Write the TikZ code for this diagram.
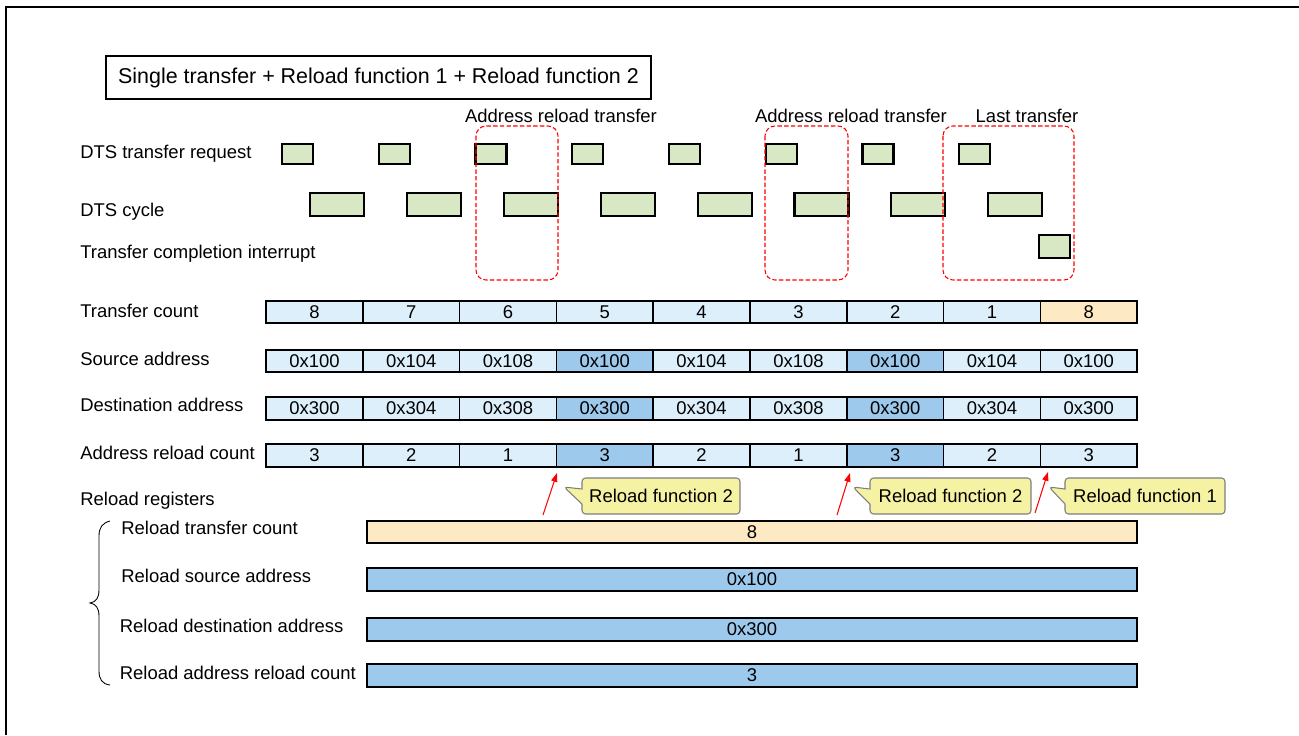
\documentclass[tikz,border=0pt]{standalone}
\usepackage{fontspec}
\setmainfont{Liberation Sans}
\usetikzlibrary{shapes.callouts,arrows.meta}

\definecolor{dtsgreen}{RGB}{216,232,197}
\definecolor{cellblue}{RGB}{221,239,250}
\definecolor{hiblue}{RGB}{157,201,236}
\definecolor{peach}{RGB}{253,233,195}
\definecolor{noteyellow}{RGB}{246,242,164}
\definecolor{notegray}{RGB}{125,125,125}

\begin{document}
\begin{tikzpicture}[x=0.02cm,y=-0.02cm,
    lbl/.style={anchor=west,inner sep=0,font=\fontsize{10.5}{12}\selectfont},
    req/.style={draw,line width=1.2pt,fill=dtsgreen,inner sep=0,minimum width=31*\px,minimum height=20*\px},
    cyc/.style={draw,line width=1.2pt,fill=dtsgreen,inner sep=0,minimum width=54*\px,minimum height=23*\px},
    cell/.style={draw,line width=0.9pt,inner sep=0,minimum width=\pitch*\px,minimum height=22.5*\px,font=\fontsize{10.5}{12}\selectfont},
    bar/.style={draw,line width=1.1pt,inner sep=0,minimum width=770*\px,minimum height=22.5*\px,font=\fontsize{10.5}{12}\selectfont},
    reloadframe/.style={red,line width=0.6pt,dash pattern=on 2.5pt off 1.3pt,rounded corners=0.2cm},
    redarrow/.style={red,line width=0.6pt,-{Triangle[length=5pt,width=3.5pt]}},
    note/.style={rectangle callout,draw=notegray,line width=0.6pt,fill=noteyellow,rounded corners=2pt,
        callout pointer width=0.3cm,inner sep=0,minimum height=36*\px,font=\fontsize{10.5}{12}\selectfont}]

    % Dimensions (pixel grid)
    \def\px{0.02cm}
    \def\pitch{96.8}
    \def\xcell{266}
    \useasboundingbox (0,0) rectangle (1299,735);

    % Outer frame (only left and top edges in view)
    \draw[line width=1.2pt] (6,735) -- (6,7) -- (1299,7);

    % Title
    \node[draw,line width=1.2pt,inner sep=0,minimum width=545*\px,minimum height=43*\px,
        font=\fontsize{12.2}{14}\selectfont] (title) at (378.5,77.5)
        {Single transfer + Reload function 1 + Reload function 2};

    % Timing rows
    \node[lbl] (lreq) at (80,154) {DTS transfer request};
    \node[lbl] (lcyc) at (80,212) {DTS cycle};
    \node[lbl] (lirq) at (80,254) {Transfer completion interrupt};
    \foreach \i in {1,...,8} {
        \node[req] (rq\i) at ({297.5+(\i-1)*96.75},154) {};
        \node[cyc] (cy\i) at ({337+(\i-1)*96.9},204.5) {};
    }
    \node[req,minimum height=23*\px] (irq) at (1054.5,246.5) {};

    % Dashed frames (reload / last transfer)
    \draw[reloadframe] (476,126) rectangle (558,280);
    \draw[reloadframe] (765,126) rectangle (848,280);
    \draw[reloadframe] (943,126) rectangle (1074,280);
    \node[font=\fontsize{10.5}{12}\selectfont] (f1) at (561,116) {Address reload transfer};
    \node[font=\fontsize{10.5}{12}\selectfont] (f2) at (851,116) {Address reload transfer};
    \node[font=\fontsize{10.5}{12}\selectfont] (f3) at (1027,116) {Last transfer};

    % Register rows
    \node[lbl] (ltc) at (80,311) {Transfer count};
    \node[lbl] (lsa) at (80,359) {Source address};
    \node[lbl] (lda) at (80,405) {Destination address};
    \node[lbl] (lrc) at (80,453) {Address reload count};
    \foreach \v/\c [count=\i] in {8/cellblue,7/cellblue,6/cellblue,5/cellblue,4/cellblue,3/cellblue,2/cellblue,1/cellblue,8/peach}
        \node[cell,fill=\c] (tc\i) at ({\xcell+(\i-0.5)*\pitch},312) {\v};
    \foreach \v/\c [count=\i] in {0x100/cellblue,0x104/cellblue,0x108/cellblue,0x100/hiblue,0x104/cellblue,0x108/cellblue,0x100/hiblue,0x104/cellblue,0x100/cellblue}
        \node[cell,fill=\c] (sa\i) at ({\xcell+(\i-0.5)*\pitch},361) {\v};
    \foreach \v/\c [count=\i] in {0x300/cellblue,0x304/cellblue,0x308/cellblue,0x300/hiblue,0x304/cellblue,0x308/cellblue,0x300/hiblue,0x304/cellblue,0x300/cellblue}
        \node[cell,fill=\c] (da\i) at ({\xcell+(\i-0.5)*\pitch},408.5) {\v};
    \foreach \v/\c [count=\i] in {3/cellblue,2/cellblue,1/cellblue,3/hiblue,2/cellblue,1/cellblue,3/hiblue,2/cellblue,3/cellblue}
        \node[cell,fill=\c] (rc\i) at ({\xcell+(\i-0.5)*\pitch},455.5) {\v};

    % Reload function markers
    \coordinate (a1) at (543,515);  \coordinate (t1) at (557,473);
    \coordinate (a2) at (837,515);  \coordinate (t2) at (850,473);
    \coordinate (a3) at (1035,513); \coordinate (t3) at (1048,472);
    \draw[redarrow] (a1) -- (t1);
    \draw[redarrow] (a2) -- (t2);
    \draw[redarrow] (a3) -- (t3);
    \coordinate (p1) at (564,487);
    \coordinate (p2) at (853,487);
    \coordinate (p3) at (1049,487);
    \node[note,callout absolute pointer=(p1),minimum width=158*\px] (n1) at (661,496) {Reload function 2};
    \node[note,callout absolute pointer=(p2),minimum width=161*\px] (n2) at (950.5,496) {Reload function 2};
    \node[note,callout absolute pointer=(p3),minimum width=160*\px] (n3) at (1145,496) {Reload function 1};

    % Reload registers
    \node[lbl] (lrr) at (80,501) {Reload registers};
    \draw[line width=0.5pt] (110,521) .. controls (102,523) and (99,528) .. (99,536) -- (99,590)
        .. controls (99,598) and (96,602) .. (90,603)
        .. controls (96,604) and (99,608) .. (99,616) -- (99,671)
        .. controls (99,679) and (102,684) .. (110,685);
    \node[lbl] (lrtc) at (121,528) {Reload transfer count};
    \node[lbl] (lrsa) at (121,576) {Reload source address};
    \node[lbl] (lrda) at (119.5,626) {Reload destination address};
    \node[lbl] (lrrc) at (119.5,673) {Reload address reload count};
    \node[bar,fill=peach] (rtc) at (752,532) {8};
    \node[bar,fill=hiblue] (rsa) at (752,579.5) {0x100};
    \node[bar,fill=hiblue] (rda) at (752,629.5) {0x300};
    \node[bar,fill=hiblue] (rrc) at (752,675.5) {3};

\end{tikzpicture}
\end{document}
